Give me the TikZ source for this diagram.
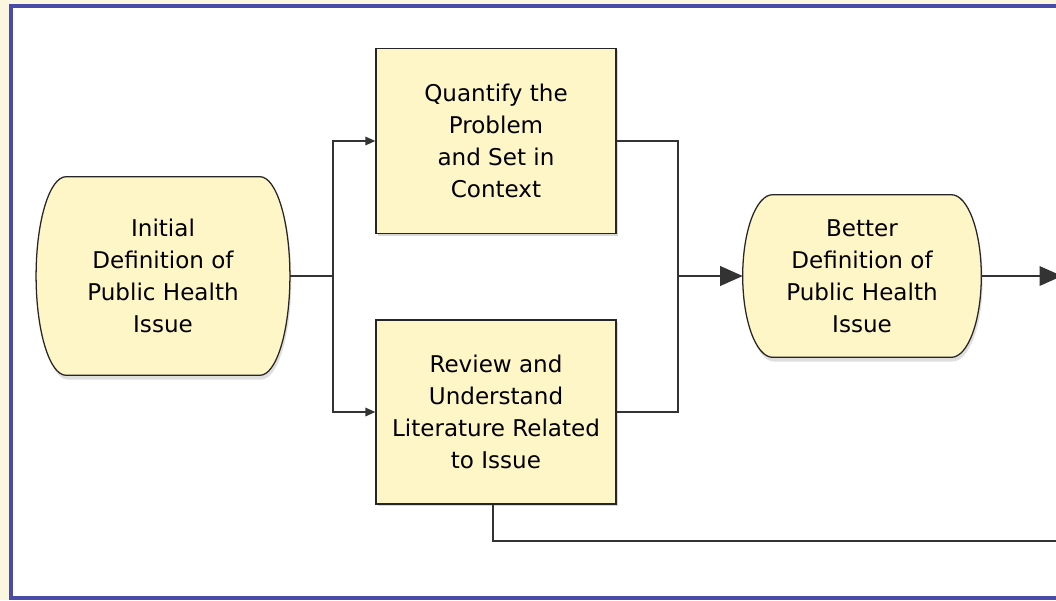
\documentclass[tikz,border=0pt]{standalone}
\usepackage{fontspec}
\setmainfont{DejaVu Sans}
\usetikzlibrary{arrows.meta}
\usetikzlibrary{calc}
\usetikzlibrary{backgrounds}
\usetikzlibrary{shadows}
\definecolor{boxfill}{RGB}{255,246,199}
\definecolor{frameblue}{RGB}{74,74,168}
\definecolor{pagecream}{RGB}{251,246,224}
\tikzset{
  issue/.style={rectangle, align=center, inner sep=0pt},
  issue line/.style={draw=black!85, line width=0.9pt, fill=boxfill,
    drop shadow={shadow xshift=1pt, shadow yshift=-3pt, opacity=0.25}},
  task/.style={rectangle, draw=black!85, line width=0.9pt, fill=boxfill, align=center,
    minimum width=6cm, inner sep=0pt,
    drop shadow={shadow xshift=1.5pt, shadow yshift=-1.5pt, opacity=0.3}},
  link/.style={draw=black!80, line width=1pt},
  small arrow/.style={-{Triangle[length=7pt,width=6pt]}},
  big arrow/.style={-{Triangle[length=16pt,width=14pt]}}
}
% outline with half-elliptic sides round a named node
\newcommand{\issueshape}[2]{%
  \begin{scope}[on background layer]
    \path[issue line] ([xshift=#2cm]#1.north west)
      .. controls ([xshift=0.448*#2cm]#1.north west) and ($(#1.west)!0.552!(#1.north west)$) .. (#1.west)
      .. controls ($(#1.west)!0.552!(#1.south west)$) and ([xshift=0.448*#2cm]#1.south west) .. ([xshift=#2cm]#1.south west)
      -- ([xshift=-#2cm]#1.south east)
      .. controls ([xshift=-0.448*#2cm]#1.south east) and ($(#1.east)!0.552!(#1.south east)$) .. (#1.east)
      .. controls ($(#1.east)!0.552!(#1.north east)$) and ([xshift=-0.448*#2cm]#1.north east) .. ([xshift=-#2cm]#1.north east)
      -- cycle;
  \end{scope}}
\begin{document}
\begin{tikzpicture}[x=0.025cm, y=-0.025cm, font=\fontsize{16.4}{22.8}\selectfont]
        \useasboundingbox (0,0) rectangle (1056,600);
        \begin{scope}[on background layer]
            \fill[pagecream] (0,0) rectangle (1056,600);
            \draw[frameblue, fill=white, line width=3pt] (11,6) rectangle (1075,598);
        \end{scope}

        \node[issue, minimum width=6.33cm, minimum height=4.95cm] (initial) at (163,276)
            {Initial\\Definition of\\Public Health\\Issue};
        \issueshape{initial}{0.75}
        \node[task, minimum height=4.63cm] (quantify) at (496,141)
            {Quantify the\\Problem\\and Set in\\Context};
        \node[task, minimum height=4.6cm] (review) at (496,412)
            {Review and\\Understand\\Literature Related\\to Issue};
        \node[issue, minimum width=5.95cm, minimum height=4.05cm] (better) at (862,276)
            {Better\\Definition of\\Public Health\\Issue};
        \issueshape{better}{0.75}

        \coordinate (split) at (333,276);
        \coordinate (merge) at (678,276);
        \coordinate (next) at (1062,276);
        \coordinate (back) at (1075,541);

        \draw[link] (initial.east) -- (split);
        \draw[link, small arrow] (split) |- (quantify.west);
        \draw[link, small arrow] (split) |- (review.west);
        \draw[link] (quantify.east) -| (merge);
        \draw[link] (review.east) -| (merge);
        \draw[link, big arrow] (merge) -- (better.west);
        \draw[link, big arrow] (better.east) -- (next);
        \draw[link] ([xshift=-0.08cm]review.south) |- (back);
    \end{tikzpicture}
\end{document}
